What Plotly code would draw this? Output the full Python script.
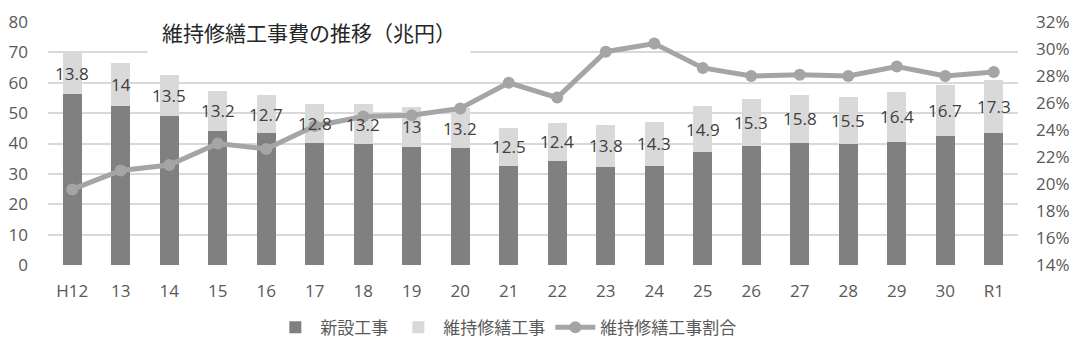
import plotly.graph_objects as go

categories = ["H12", "13", "14", "15", "16", "17", "18", "19", "20", "21",
              "22", "23", "24", "25", "26", "27", "28", "29", "30", "R1"]
new_construction = [56.2, 52.4, 49.1, 44.2, 43.3, 40.3, 39.8, 39.0, 38.4, 32.7,
                    34.3, 32.3, 32.7, 37.3, 39.2, 40.2, 39.8, 40.6, 42.5, 43.5]
maintenance = [13.8, 14, 13.5, 13.2, 12.7, 12.8, 13.2, 13, 13.2, 12.5,
               12.4, 13.8, 14.3, 14.9, 15.3, 15.8, 15.5, 16.4, 16.7, 17.3]
maintenance_ratio = [0.196, 0.210, 0.214, 0.230, 0.226, 0.243, 0.250, 0.251, 0.256, 0.275,
                     0.264, 0.298, 0.304, 0.286, 0.280, 0.281, 0.280, 0.287, 0.280, 0.283]

title_text = "維持修繕工事費の推移（兆円）"
name_new = "新設工事"
name_maint = "維持修繕工事"
name_ratio = "維持修繕工事割合"

JP = "Noto Sans CJK JP"
NUM = "Open Sans"
TXT = "#595959"

fig = go.Figure()
fig.add_trace(go.Bar(x=categories, y=new_construction, name=name_new,
                     marker=dict(color="#808080", line=dict(width=0)), yaxis="y"))
fig.add_trace(go.Bar(x=categories, y=maintenance, name=name_maint,
                     marker=dict(color="#d9d9d9", line=dict(width=0)), yaxis="y"))
fig.add_trace(go.Scatter(x=categories, y=maintenance_ratio, name=name_ratio, yaxis="y2",
                         mode="lines+markers",
                         line=dict(color="#a5a5a5", width=5),
                         marker=dict(color="#a5a5a5", size=12)))

annotations = []
for i, (n, m) in enumerate(zip(new_construction, maintenance)):
    annotations.append(dict(x=i, y=n + m / 2, xref="x", yref="y", text=str(m),
                            showarrow=False, font=dict(family=NUM, size=17, color="#404040")))
annotations.append(dict(x=0.269, y=0.959, xref="paper", yref="paper", text=title_text,
                        xanchor="center", yanchor="middle",
                        showarrow=False, bgcolor="white", borderpad=8, width=306,
                        font=dict(family=JP, size=21, color="#262626")))

fig.update_layout(
    width=1076, height=356,
    margin=dict(l=40, r=66, t=14, b=99, autoexpand=False),
    paper_bgcolor="white", plot_bgcolor="white",
    barmode="stack", bargap=0.61,
    showlegend=True,
    legend=dict(orientation="h", x=0.472, xanchor="center",
                y=-0.258, yanchor="middle", traceorder="normal", itemwidth=40,
                font=dict(family=JP, size=17, color=TXT)),
    xaxis=dict(type="category", range=[-0.5, 19.5], showgrid=False, zeroline=False,
               showline=False, tickangle=0, automargin=False,
               tickfont=dict(family=NUM, size=17, color=TXT), ticklabelstandoff=14),
    yaxis=dict(range=[0, 80], dtick=10, showgrid=True, gridcolor="#d9d9d9", gridwidth=1.5,
               zeroline=False, showline=False, automargin=False,
               tickfont=dict(family=NUM, size=17, color=TXT), ticklabelstandoff=19),
    yaxis2=dict(range=[0.14, 0.32], dtick=0.02, tickformat=".0%", overlaying="y", side="right",
                showgrid=False, zeroline=False, showline=False, automargin=False,
                tickfont=dict(family=NUM, size=17, color=TXT), ticklabelstandoff=17),
    annotations=annotations,
)

fig.write_html("out.html")
